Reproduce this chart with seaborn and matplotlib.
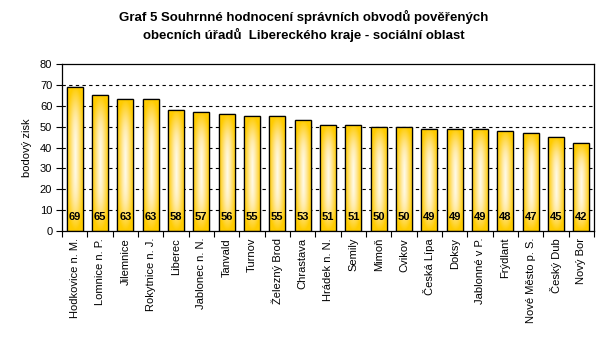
import numpy as np
import pandas as pd
import matplotlib
matplotlib.use("Agg")
import matplotlib.pyplot as plt
import seaborn as sns
from matplotlib.colors import LinearSegmentedColormap

categories = ["Hodkovice n. M.", "Lomnice n. P.", "Jilemnice", "Rokytnice n. J.", "Liberec",
              "Jablonec n. N.", "Tanvald", "Turnov", "Železný Brod", "Chrastava", "Hrádek n. N.",
              "Semily", "Mimoň", "Cvikov", "Česká Lípa", "Doksy", "Jablonné v P.", "Frýdlant",
              "Nové Město p. S.", "Český Dub", "Nový Bor"]
values = [69, 65, 63, 63, 58, 57, 56, 55, 55, 53, 51, 51, 50, 50, 49, 49, 49, 48, 47, 45, 42]
title = "Graf 5 Souhrnné hodnocení správních obvodů pověřených\nobecních úřadů  Libereckého kraje - sociální oblast"
ylabel = "bodový zisk"

sns.set_theme(style="white")
plt.rcParams["font.family"] = ["Liberation Sans", "DejaVu Sans"]
for k in ["text.color", "axes.labelcolor", "xtick.color", "ytick.color"]:
    plt.rcParams[k] = "black"

df = pd.DataFrame({"cat": categories, "val": values})

fig = plt.figure(figsize=(6.08, 3.37), dpi=100)
ax = fig.add_axes([62/608, 1-231/337, (594-62)/608, (231-64)/337])

sns.barplot(data=df, x="cat", y="val", ax=ax, color="#FFCC00", width=0.64,
            edgecolor="black", linewidth=0.9, saturation=1)

# gradient fill
cmap = LinearSegmentedColormap.from_list("g", ["#FFFBEA", "#FFEBA8", "#FFDA50", "#FFCC00"])
ny, nx = 120, 60
yy, xx = np.mgrid[-1:1:ny*1j, -1:1:nx*1j]
r = np.sqrt(xx ** 2 + yy ** 4)
r = np.clip(r, 0, 1)
for p in ax.patches:
    p.set_zorder(3)
    x0, y0 = p.get_x(), p.get_y()
    w, h = p.get_width(), p.get_height()
    im = ax.imshow(r, cmap=cmap, vmin=0, vmax=1, extent=[x0, x0 + w, y0, y0 + h],
                   aspect="auto", zorder=3.1, interpolation="bilinear")
    im.set_clip_path(p)
    edge = plt.Rectangle((x0, y0), w, h, fill=False, edgecolor="black", linewidth=0.9,
                         zorder=3.2)
    ax.add_patch(edge)
ax.set_xlim(-0.5, len(categories) - 0.5)
ax.set_ylim(0, 80)

for i, v in enumerate(values):
    ax.text(i, 6.5, str(v), ha="center", va="center", fontsize=8, fontweight="bold",
            color="black", zorder=10)

for yv in range(10, 80, 10):
    ax.axhline(yv, color="black", linestyle=(0, (3, 3)), linewidth=0.8, zorder=1)

ax.set_yticks(range(0, 81, 10))
ax.set_yticklabels([str(v) for v in range(0, 81, 10)], fontsize=8)
ax.set_xticks(range(len(categories)))
ax.set_xticklabels(categories, rotation=90, fontsize=8)
ax.set_xticks(np.arange(-0.5, len(categories), 1), minor=True)
ax.tick_params(axis="x", which="major", length=0, pad=5)
ax.tick_params(axis="x", which="minor", length=4, width=0.8, color="black", direction="out", bottom=True)
ax.tick_params(axis="y", which="major", length=4, width=0.8, color="black", direction="out", left=True, pad=3)
ax.set_xlabel("")
ax.set_ylabel(ylabel, fontsize=8, labelpad=6)
for s in ax.spines.values():
    s.set_visible(True)
    s.set_color("black")
    s.set_linewidth(0.9)
    s.set_zorder(5)

fig.text(0.5, 1 - 26/337, title, ha="center", va="center", fontsize=9.5, fontweight="bold",
         linespacing=1.35, color="black")

fig.savefig("out.png", dpi=100, facecolor="white")
